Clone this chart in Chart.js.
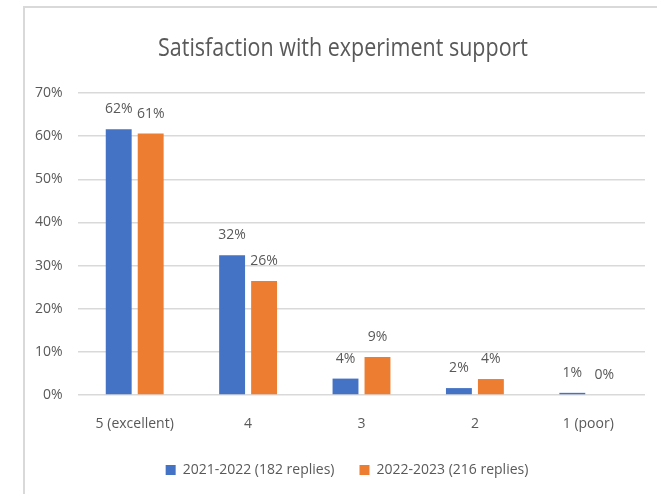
<!DOCTYPE html>
<html>
<head>
<meta charset="utf-8">
<script src="https://cdn.jsdelivr.net/npm/chart.js@4"></script>
<style>
  html, body { margin: 0; padding: 0; background: #fff; }
  #wrap { width: 657px; height: 494px; }
</style>
</head>
<body>
<div id="wrap"><canvas id="satChart" width="657" height="494"></canvas></div>
<script>
const chartTitle = "Satisfaction with experiment support";
const categories = ["5 (excellent)", "4", "3", "2", "1 (poor)"];
const seriesNames = ["2021-2022 (182 replies)", "2022-2023 (216 replies)"];
const values2122 = [61.6, 32.4, 3.8, 1.6, 0.5];
const values2223 = [60.6, 26.4, 8.8, 3.7, 0];
const yTicks = [0, 10, 20, 30, 40, 50, 60, 70];

const textColor = "#595959";
const gridColor = "#D9D9D9";

// frame + title, Excel style
const framePlugin = {
  id: "frame",
  beforeDraw(chart) {
    const ctx = chart.ctx;
    ctx.save();
    ctx.strokeStyle = gridColor;
    ctx.lineWidth = 2;
    ctx.beginPath();
    ctx.moveTo(24, 494);
    ctx.lineTo(24, 7);
    ctx.lineTo(657, 7);
    ctx.stroke();
    ctx.restore();
  },
  afterDraw(chart) {
    const ctx = chart.ctx;
    ctx.save();
    ctx.fillStyle = textColor;
    ctx.font = "26px 'Open Sans'";
    ctx.textAlign = "center";
    ctx.textBaseline = "alphabetic";
    ctx.fillText(chartTitle, 343, 56, 370);
    ctx.restore();
  }
};

// value labels over the bars
const barLabels = {
  id: "barLabels",
  afterDatasetsDraw(chart) {
    const ctx = chart.ctx;
    ctx.save();
    ctx.fillStyle = textColor;
    ctx.font = "14px 'Open Sans'";
    ctx.textAlign = "center";
    ctx.textBaseline = "middle";
    chart.data.datasets.forEach((ds, i) => {
      chart.getDatasetMeta(i).data.forEach((bar, j) => {
        ctx.fillText(Math.round(ds.data[j]) + "%", bar.x, bar.y - 20);
      });
    });
    ctx.restore();
  }
};

new Chart(document.getElementById("satChart"), {
  type: "bar",
  data: {
    labels: categories,
    datasets: [
      { label: seriesNames[0], data: values2122, backgroundColor: "#4472C4" },
      { label: seriesNames[1], data: values2223, backgroundColor: "#ED7D31" }
    ]
  },
  options: {
    responsive: false,
    animation: false,
    categoryPercentage: 0.564,
    barPercentage: 0.81,
    layout: { padding: { top: 93, right: 12, left: 49, bottom: 7 } },
    plugins: {
      title: { display: false },
      tooltip: { enabled: false },
      legend: {
        position: "bottom",
        labels: {
          boxWidth: 10,
          boxHeight: 10,
          padding: 25,
          color: textColor,
          font: { family: "'Open Sans'", size: 14 }
        }
      }
    },
    scales: {
      x: {
        grid: { display: false },
        border: { display: false },
        ticks: { color: textColor, padding: 13, font: { family: "'Open Sans'", size: 14 } },
        afterFit(s) { s.height = 43; }
      },
      y: {
        min: 0,
        max: 70,
        afterBuildTicks(s) { s.ticks = yTicks.map(v => ({ value: v })); },
        grid: { color: gridColor, lineWidth: 1.5, drawTicks: false },
        border: { display: false },
        ticks: {
          color: textColor,
          mirror: true,
          crossAlign: "far",
          padding: -43,
          font: { family: "'Open Sans'", size: 14 },
          callback: v => v + "%"
        },
        afterFit(s) { s.width = 29; }
      }
    }
  },
  plugins: [framePlugin, barLabels]
});
</script>
</body>
</html>
